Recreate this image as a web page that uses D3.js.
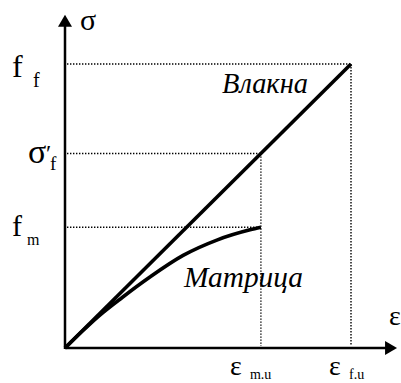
<!DOCTYPE html>
<html>
<head>
<meta charset="utf-8">
<script src="https://cdn.jsdelivr.net/npm/d3@7"></script>
<style>
  svg text, svg tspan { font-family: "Liberation Serif", "Times New Roman", serif !important; }
</style>
</head>
<body style="margin:0">
<svg id="chart" width="401" height="383" font-family="Liberation Serif"></svg>
<script>
// Characteristic values (relative units)
const strainKeys = { matrixUltimate: 68.5, fiberUltimate: 100 };
const stressKeys = { fiberStrength: 100, fiberAtMatrixFailure: 68.5, matrixStrength: 42.5 };

// Fibre: linear elastic up to failure
const fiberStrain = [0, 100];
const fiberStress = [0, 100];

// Matrix: non-linear curve up to its ultimate strain
const matrixStrain = [0, 6, 12.2, 20, 29.7, 41.3, 53.1, 64.7, 68.5];
const matrixStress = [0, 5.9, 11.6, 17.8, 25.0, 32.6, 38.0, 41.6, 42.5];

// Axis extents (arrow tips)
const axisMax = { strain: 116.1, stress: 117.3 };

const FONT = '"Liberation Serif", "Times New Roman", serif';

const svg = d3.select("#chart");
const x = d3.scaleLinear().domain([0, 100]).range([65, 351]);
const y = d3.scaleLinear().domain([0, 100]).range([348, 64]);

// Dotted guide lines
const guides = svg.append("g")
  .attr("fill", "none").attr("stroke", "#000")
  .attr("stroke-width", 1.4).attr("stroke-dasharray", "1.4,1.6");
const hGuides = [
  [stressKeys.fiberStrength, strainKeys.fiberUltimate],
  [stressKeys.fiberAtMatrixFailure, strainKeys.matrixUltimate],
  [stressKeys.matrixStrength, strainKeys.matrixUltimate]
];
hGuides.forEach(([s, e]) => {
  guides.append("line").attr("x1", x(0) + 2).attr("x2", x(e))
    .attr("y1", y(s)).attr("y2", y(s));
});
const vGuides = [
  [strainKeys.fiberUltimate, stressKeys.fiberStrength],
  [strainKeys.matrixUltimate, stressKeys.fiberAtMatrixFailure]
];
vGuides.forEach(([e, s]) => {
  guides.append("line").attr("x1", x(e)).attr("x2", x(e))
    .attr("y1", y(s)).attr("y2", y(0) - 2);
});

// Axes with arrowheads
const axes = svg.append("g").attr("stroke", "#000").attr("stroke-width", 2.5);
axes.append("line").attr("x1", x(0)).attr("x2", x(axisMax.strain) - 10)
  .attr("y1", y(0)).attr("y2", y(0));
axes.append("line").attr("x1", x(0)).attr("x2", x(0))
  .attr("y1", y(0) + 1).attr("y2", y(axisMax.stress) + 10);
const xt = x(axisMax.strain), yt = y(axisMax.stress);
svg.append("path")
  .attr("d", `M${xt},${y(0)} L${xt - 12},${y(0) - 7} L${xt - 12},${y(0) + 7} Z`)
  .attr("fill", "#000");
svg.append("path")
  .attr("d", `M${x(0)},${yt} L${x(0) - 7},${yt + 12} L${x(0) + 7},${yt + 12} Z`)
  .attr("fill", "#000");

// Curves
const line = d3.line().x(d => x(d[0])).y(d => y(d[1]));
svg.append("path")
  .datum(fiberStrain.map((e, i) => [e, fiberStress[i]]))
  .attr("d", line).attr("fill", "none").attr("stroke", "#000").attr("stroke-width", 3.6);
svg.append("path")
  .datum(matrixStrain.map((e, i) => [e, matrixStress[i]]))
  .attr("d", line.curve(d3.curveMonotoneX))
  .attr("fill", "none").attr("stroke", "#000").attr("stroke-width", 3.6);

function addText(px, py, size, str) {
  return svg.append("text").attr("x", px).attr("y", py)
    .style("font-family", FONT, "important").attr("font-size", size).text(str);
}

// Axis titles
addText(x(0) + 15, 30, 30, "σ");
addText(389, 325, 28, "ε");

// Stress labels (main symbol + subscript)
const yFF = y(stressKeys.fiberStrength);
addText(12, yFF + 13, 32, "f");
addText(33, yFF + 23, 20, "f");

const ySF = y(stressKeys.fiberAtMatrixFailure);
addText(28, ySF + 10, 34, "σ");
addText(46, ySF + 8, 24, "′");
addText(50, ySF + 17, 19, "f");

const yFM = y(stressKeys.matrixStrength);
addText(12, yFM + 9, 30, "f");
addText(27, yFM + 18, 16, "m");

// Strain labels
const xMU = x(strainKeys.matrixUltimate);
addText(xMU - 31, 375, 28, "ε");
addText(xMU - 11, 379, 14, "m.u");
const xFU = x(strainKeys.fiberUltimate);
addText(xFU - 22, 375, 28, "ε");
addText(xFU - 2, 379, 14, "f.u");

// Curve names
addText(222, 93, 29, "Влакна").style("font-style", "italic")
  .attr("textLength", 86).attr("lengthAdjust", "spacingAndGlyphs");
addText(184, 287, 29, "Матрица").style("font-style", "italic")
  .attr("textLength", 119).attr("lengthAdjust", "spacingAndGlyphs");
</script>
</body>
</html>
